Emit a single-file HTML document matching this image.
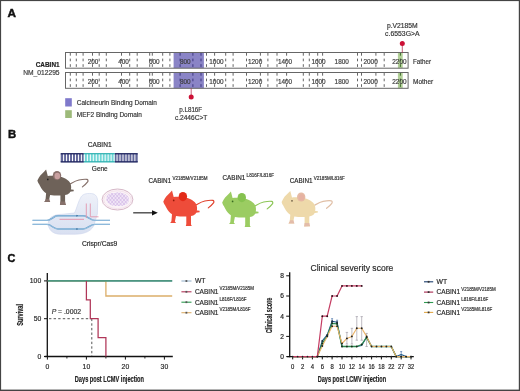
<!DOCTYPE html><html><head><meta charset="utf-8"><style>html,body{margin:0;padding:0;background:#fff;}svg{display:block;will-change:transform;}text{font-family:"Liberation Sans",sans-serif;}</style></head><body>
<svg width="520" height="391" viewBox="0 0 520 391">
<rect x="0" y="0" width="520" height="391" fill="#fff"/>
<text x="7.4" y="17.4" font-size="11.3" fill="#111" text-anchor="start" font-weight="bold" font-style="normal" textLength="8.5" lengthAdjust="spacingAndGlyphs" stroke="#111" stroke-width="0.45">A</text>
<text x="8.1" y="137.9" font-size="11.8" fill="#111" text-anchor="start" font-weight="bold" font-style="normal" textLength="8.2" lengthAdjust="spacingAndGlyphs" stroke="#111" stroke-width="0.45">B</text>
<text x="7.5" y="262.2" font-size="11.8" fill="#111" text-anchor="start" font-weight="bold" font-style="normal" textLength="7.9" lengthAdjust="spacingAndGlyphs" stroke="#111" stroke-width="0.45">C</text>
<text x="59.6" y="66.8" font-size="6.6" fill="#222" text-anchor="end" font-weight="bold" font-style="normal" textLength="23.9" lengthAdjust="spacingAndGlyphs" stroke="#222" stroke-width="0.18" >CABIN1</text>
<text x="59.6" y="74.8" font-size="6.6" fill="#3c3c3c" text-anchor="end" font-weight="normal" font-style="normal" textLength="36.4" lengthAdjust="spacingAndGlyphs" stroke="#3c3c3c" stroke-width="0.18" >NM_012295</text>
<rect x="65.5" y="52.5" width="342.6" height="15.7" fill="#fff"/>
<rect x="173.6" y="52.5" width="30.3" height="15.7" fill="#8a84c6"/>
<rect x="397.9" y="52.5" width="4.8" height="15.7" fill="#b2d098"/>
<line x1="70.3" y1="52.5" x2="70.3" y2="68.2" stroke="#666" stroke-width="1" stroke-dasharray="2.7 2.9" stroke-dashoffset="-0.5"/>
<line x1="76.3" y1="52.5" x2="76.3" y2="68.2" stroke="#666" stroke-width="1" stroke-dasharray="2.7 2.9" stroke-dashoffset="-0.5"/>
<line x1="83.1" y1="52.5" x2="83.1" y2="68.2" stroke="#666" stroke-width="1" stroke-dasharray="2.7 2.9" stroke-dashoffset="-0.5"/>
<line x1="92.5" y1="52.5" x2="92.5" y2="68.2" stroke="#666" stroke-width="1" stroke-dasharray="2.7 2.9" stroke-dashoffset="-0.5"/>
<line x1="99.2" y1="52.5" x2="99.2" y2="68.2" stroke="#666" stroke-width="1" stroke-dasharray="2.7 2.9" stroke-dashoffset="-0.5"/>
<line x1="106.3" y1="52.5" x2="106.3" y2="68.2" stroke="#666" stroke-width="1" stroke-dasharray="2.7 2.9" stroke-dashoffset="-0.5"/>
<line x1="121.5" y1="52.5" x2="121.5" y2="68.2" stroke="#666" stroke-width="1" stroke-dasharray="2.7 2.9" stroke-dashoffset="-0.5"/>
<line x1="129.7" y1="52.5" x2="129.7" y2="68.2" stroke="#666" stroke-width="1" stroke-dasharray="2.7 2.9" stroke-dashoffset="-0.5"/>
<line x1="137.2" y1="52.5" x2="137.2" y2="68.2" stroke="#666" stroke-width="1" stroke-dasharray="2.7 2.9" stroke-dashoffset="-0.5"/>
<line x1="149.7" y1="52.5" x2="149.7" y2="68.2" stroke="#666" stroke-width="1" stroke-dasharray="2.7 2.9" stroke-dashoffset="-0.5"/>
<line x1="152.3" y1="52.5" x2="152.3" y2="68.2" stroke="#666" stroke-width="1" stroke-dasharray="2.7 2.9" stroke-dashoffset="-0.5"/>
<line x1="162.7" y1="52.5" x2="162.7" y2="68.2" stroke="#666" stroke-width="1" stroke-dasharray="2.7 2.9" stroke-dashoffset="-0.5"/>
<line x1="169.9" y1="52.5" x2="169.9" y2="68.2" stroke="#666" stroke-width="1" stroke-dasharray="2.7 2.9" stroke-dashoffset="-0.5"/>
<line x1="180.1" y1="52.5" x2="180.1" y2="68.2" stroke="#3c3680" stroke-width="1" stroke-dasharray="2.7 2.9" stroke-dashoffset="-0.5"/>
<line x1="192.9" y1="52.5" x2="192.9" y2="68.2" stroke="#3c3680" stroke-width="1" stroke-dasharray="2.7 2.9" stroke-dashoffset="-0.5"/>
<line x1="201" y1="52.5" x2="201" y2="68.2" stroke="#3c3680" stroke-width="1" stroke-dasharray="2.7 2.9" stroke-dashoffset="-0.5"/>
<line x1="206.5" y1="52.5" x2="206.5" y2="68.2" stroke="#666" stroke-width="1" stroke-dasharray="2.7 2.9" stroke-dashoffset="-0.5"/>
<line x1="214.6" y1="52.5" x2="214.6" y2="68.2" stroke="#666" stroke-width="1" stroke-dasharray="2.7 2.9" stroke-dashoffset="-0.5"/>
<line x1="225.7" y1="52.5" x2="225.7" y2="68.2" stroke="#666" stroke-width="1" stroke-dasharray="2.7 2.9" stroke-dashoffset="-0.5"/>
<line x1="233.1" y1="52.5" x2="233.1" y2="68.2" stroke="#666" stroke-width="1" stroke-dasharray="2.7 2.9" stroke-dashoffset="-0.5"/>
<line x1="246.5" y1="52.5" x2="246.5" y2="68.2" stroke="#666" stroke-width="1" stroke-dasharray="2.7 2.9" stroke-dashoffset="-0.5"/>
<line x1="260.4" y1="52.5" x2="260.4" y2="68.2" stroke="#666" stroke-width="1" stroke-dasharray="2.7 2.9" stroke-dashoffset="-0.5"/>
<line x1="267.9" y1="52.5" x2="267.9" y2="68.2" stroke="#666" stroke-width="1" stroke-dasharray="2.7 2.9" stroke-dashoffset="-0.5"/>
<line x1="277" y1="52.5" x2="277" y2="68.2" stroke="#666" stroke-width="1" stroke-dasharray="2.7 2.9" stroke-dashoffset="-0.5"/>
<line x1="286.6" y1="52.5" x2="286.6" y2="68.2" stroke="#666" stroke-width="1" stroke-dasharray="2.7 2.9" stroke-dashoffset="-0.5"/>
<line x1="303.3" y1="52.5" x2="303.3" y2="68.2" stroke="#666" stroke-width="1" stroke-dasharray="2.7 2.9" stroke-dashoffset="-0.5"/>
<line x1="309.3" y1="52.5" x2="309.3" y2="68.2" stroke="#666" stroke-width="1" stroke-dasharray="2.7 2.9" stroke-dashoffset="-0.5"/>
<line x1="317.7" y1="52.5" x2="317.7" y2="68.2" stroke="#666" stroke-width="1" stroke-dasharray="2.7 2.9" stroke-dashoffset="-0.5"/>
<line x1="322.6" y1="52.5" x2="322.6" y2="68.2" stroke="#666" stroke-width="1" stroke-dasharray="2.7 2.9" stroke-dashoffset="-0.5"/>
<line x1="357.5" y1="52.5" x2="357.5" y2="68.2" stroke="#666" stroke-width="1" stroke-dasharray="2.7 2.9" stroke-dashoffset="-0.5"/>
<line x1="361.5" y1="52.5" x2="361.5" y2="68.2" stroke="#666" stroke-width="1" stroke-dasharray="2.7 2.9" stroke-dashoffset="-0.5"/>
<line x1="375.9" y1="52.5" x2="375.9" y2="68.2" stroke="#666" stroke-width="1" stroke-dasharray="2.7 2.9" stroke-dashoffset="-0.5"/>
<line x1="384.2" y1="52.5" x2="384.2" y2="68.2" stroke="#666" stroke-width="1" stroke-dasharray="2.7 2.9" stroke-dashoffset="-0.5"/>
<line x1="400.4" y1="52.5" x2="400.4" y2="68.2" stroke="#3d6a2c" stroke-width="1" stroke-dasharray="2.7 2.9" stroke-dashoffset="-0.5"/>
<text x="93" y="64.4" font-size="6.4" fill="#3e3e3e" text-anchor="middle" font-weight="normal" font-style="normal" stroke="#3e3e3e" stroke-width="0.18" >200</text>
<text x="123.5" y="64.4" font-size="6.4" fill="#3e3e3e" text-anchor="middle" font-weight="normal" font-style="normal" stroke="#3e3e3e" stroke-width="0.18" >400</text>
<text x="154.3" y="64.4" font-size="6.4" fill="#3e3e3e" text-anchor="middle" font-weight="normal" font-style="normal" stroke="#3e3e3e" stroke-width="0.18" >600</text>
<text x="185.3" y="64.4" font-size="6.4" fill="#3e3e3e" text-anchor="middle" font-weight="normal" font-style="normal" stroke="#3e3e3e" stroke-width="0.18" >800</text>
<text x="216.4" y="64.4" font-size="6.4" fill="#3e3e3e" text-anchor="middle" font-weight="normal" font-style="normal" stroke="#3e3e3e" stroke-width="0.18" >1000</text>
<text x="255.1" y="64.4" font-size="6.4" fill="#3e3e3e" text-anchor="middle" font-weight="normal" font-style="normal" stroke="#3e3e3e" stroke-width="0.18" >1200</text>
<text x="285" y="64.4" font-size="6.4" fill="#3e3e3e" text-anchor="middle" font-weight="normal" font-style="normal" stroke="#3e3e3e" stroke-width="0.18" >1400</text>
<text x="318.5" y="64.4" font-size="6.4" fill="#3e3e3e" text-anchor="middle" font-weight="normal" font-style="normal" stroke="#3e3e3e" stroke-width="0.18" >1600</text>
<text x="341.7" y="64.4" font-size="6.4" fill="#3e3e3e" text-anchor="middle" font-weight="normal" font-style="normal" stroke="#3e3e3e" stroke-width="0.18" >1800</text>
<text x="370.6" y="64.4" font-size="6.4" fill="#3e3e3e" text-anchor="middle" font-weight="normal" font-style="normal" stroke="#3e3e3e" stroke-width="0.18" >2000</text>
<text x="399.4" y="64.4" font-size="6.4" fill="#3e3e3e" text-anchor="middle" font-weight="normal" font-style="normal" stroke="#3e3e3e" stroke-width="0.18" >2200</text>
<rect x="65.5" y="52.5" width="342.6" height="15.7" fill="none" stroke="#666" stroke-width="1"/>
<rect x="65.5" y="72.5" width="342.6" height="15.8" fill="#fff"/>
<rect x="173.6" y="72.5" width="30.3" height="15.8" fill="#8a84c6"/>
<rect x="397.9" y="72.5" width="4.8" height="15.8" fill="#b2d098"/>
<line x1="70.3" y1="72.5" x2="70.3" y2="88.3" stroke="#666" stroke-width="1" stroke-dasharray="2.7 2.9" stroke-dashoffset="-0.5"/>
<line x1="76.3" y1="72.5" x2="76.3" y2="88.3" stroke="#666" stroke-width="1" stroke-dasharray="2.7 2.9" stroke-dashoffset="-0.5"/>
<line x1="83.1" y1="72.5" x2="83.1" y2="88.3" stroke="#666" stroke-width="1" stroke-dasharray="2.7 2.9" stroke-dashoffset="-0.5"/>
<line x1="92.5" y1="72.5" x2="92.5" y2="88.3" stroke="#666" stroke-width="1" stroke-dasharray="2.7 2.9" stroke-dashoffset="-0.5"/>
<line x1="99.2" y1="72.5" x2="99.2" y2="88.3" stroke="#666" stroke-width="1" stroke-dasharray="2.7 2.9" stroke-dashoffset="-0.5"/>
<line x1="106.3" y1="72.5" x2="106.3" y2="88.3" stroke="#666" stroke-width="1" stroke-dasharray="2.7 2.9" stroke-dashoffset="-0.5"/>
<line x1="121.5" y1="72.5" x2="121.5" y2="88.3" stroke="#666" stroke-width="1" stroke-dasharray="2.7 2.9" stroke-dashoffset="-0.5"/>
<line x1="129.7" y1="72.5" x2="129.7" y2="88.3" stroke="#666" stroke-width="1" stroke-dasharray="2.7 2.9" stroke-dashoffset="-0.5"/>
<line x1="137.2" y1="72.5" x2="137.2" y2="88.3" stroke="#666" stroke-width="1" stroke-dasharray="2.7 2.9" stroke-dashoffset="-0.5"/>
<line x1="149.7" y1="72.5" x2="149.7" y2="88.3" stroke="#666" stroke-width="1" stroke-dasharray="2.7 2.9" stroke-dashoffset="-0.5"/>
<line x1="152.3" y1="72.5" x2="152.3" y2="88.3" stroke="#666" stroke-width="1" stroke-dasharray="2.7 2.9" stroke-dashoffset="-0.5"/>
<line x1="162.7" y1="72.5" x2="162.7" y2="88.3" stroke="#666" stroke-width="1" stroke-dasharray="2.7 2.9" stroke-dashoffset="-0.5"/>
<line x1="169.9" y1="72.5" x2="169.9" y2="88.3" stroke="#666" stroke-width="1" stroke-dasharray="2.7 2.9" stroke-dashoffset="-0.5"/>
<line x1="180.1" y1="72.5" x2="180.1" y2="88.3" stroke="#3c3680" stroke-width="1" stroke-dasharray="2.7 2.9" stroke-dashoffset="-0.5"/>
<line x1="192.9" y1="72.5" x2="192.9" y2="88.3" stroke="#3c3680" stroke-width="1" stroke-dasharray="2.7 2.9" stroke-dashoffset="-0.5"/>
<line x1="201" y1="72.5" x2="201" y2="88.3" stroke="#3c3680" stroke-width="1" stroke-dasharray="2.7 2.9" stroke-dashoffset="-0.5"/>
<line x1="206.5" y1="72.5" x2="206.5" y2="88.3" stroke="#666" stroke-width="1" stroke-dasharray="2.7 2.9" stroke-dashoffset="-0.5"/>
<line x1="214.6" y1="72.5" x2="214.6" y2="88.3" stroke="#666" stroke-width="1" stroke-dasharray="2.7 2.9" stroke-dashoffset="-0.5"/>
<line x1="225.7" y1="72.5" x2="225.7" y2="88.3" stroke="#666" stroke-width="1" stroke-dasharray="2.7 2.9" stroke-dashoffset="-0.5"/>
<line x1="233.1" y1="72.5" x2="233.1" y2="88.3" stroke="#666" stroke-width="1" stroke-dasharray="2.7 2.9" stroke-dashoffset="-0.5"/>
<line x1="246.5" y1="72.5" x2="246.5" y2="88.3" stroke="#666" stroke-width="1" stroke-dasharray="2.7 2.9" stroke-dashoffset="-0.5"/>
<line x1="260.4" y1="72.5" x2="260.4" y2="88.3" stroke="#666" stroke-width="1" stroke-dasharray="2.7 2.9" stroke-dashoffset="-0.5"/>
<line x1="267.9" y1="72.5" x2="267.9" y2="88.3" stroke="#666" stroke-width="1" stroke-dasharray="2.7 2.9" stroke-dashoffset="-0.5"/>
<line x1="277" y1="72.5" x2="277" y2="88.3" stroke="#666" stroke-width="1" stroke-dasharray="2.7 2.9" stroke-dashoffset="-0.5"/>
<line x1="286.6" y1="72.5" x2="286.6" y2="88.3" stroke="#666" stroke-width="1" stroke-dasharray="2.7 2.9" stroke-dashoffset="-0.5"/>
<line x1="303.3" y1="72.5" x2="303.3" y2="88.3" stroke="#666" stroke-width="1" stroke-dasharray="2.7 2.9" stroke-dashoffset="-0.5"/>
<line x1="309.3" y1="72.5" x2="309.3" y2="88.3" stroke="#666" stroke-width="1" stroke-dasharray="2.7 2.9" stroke-dashoffset="-0.5"/>
<line x1="317.7" y1="72.5" x2="317.7" y2="88.3" stroke="#666" stroke-width="1" stroke-dasharray="2.7 2.9" stroke-dashoffset="-0.5"/>
<line x1="322.6" y1="72.5" x2="322.6" y2="88.3" stroke="#666" stroke-width="1" stroke-dasharray="2.7 2.9" stroke-dashoffset="-0.5"/>
<line x1="357.5" y1="72.5" x2="357.5" y2="88.3" stroke="#666" stroke-width="1" stroke-dasharray="2.7 2.9" stroke-dashoffset="-0.5"/>
<line x1="361.5" y1="72.5" x2="361.5" y2="88.3" stroke="#666" stroke-width="1" stroke-dasharray="2.7 2.9" stroke-dashoffset="-0.5"/>
<line x1="375.9" y1="72.5" x2="375.9" y2="88.3" stroke="#666" stroke-width="1" stroke-dasharray="2.7 2.9" stroke-dashoffset="-0.5"/>
<line x1="384.2" y1="72.5" x2="384.2" y2="88.3" stroke="#666" stroke-width="1" stroke-dasharray="2.7 2.9" stroke-dashoffset="-0.5"/>
<line x1="400.4" y1="72.5" x2="400.4" y2="88.3" stroke="#3d6a2c" stroke-width="1" stroke-dasharray="2.7 2.9" stroke-dashoffset="-0.5"/>
<text x="93" y="84.4" font-size="6.4" fill="#3e3e3e" text-anchor="middle" font-weight="normal" font-style="normal" stroke="#3e3e3e" stroke-width="0.18" >200</text>
<text x="123.5" y="84.4" font-size="6.4" fill="#3e3e3e" text-anchor="middle" font-weight="normal" font-style="normal" stroke="#3e3e3e" stroke-width="0.18" >400</text>
<text x="154.3" y="84.4" font-size="6.4" fill="#3e3e3e" text-anchor="middle" font-weight="normal" font-style="normal" stroke="#3e3e3e" stroke-width="0.18" >600</text>
<text x="185.3" y="84.4" font-size="6.4" fill="#3e3e3e" text-anchor="middle" font-weight="normal" font-style="normal" stroke="#3e3e3e" stroke-width="0.18" >800</text>
<text x="216.4" y="84.4" font-size="6.4" fill="#3e3e3e" text-anchor="middle" font-weight="normal" font-style="normal" stroke="#3e3e3e" stroke-width="0.18" >1000</text>
<text x="255.1" y="84.4" font-size="6.4" fill="#3e3e3e" text-anchor="middle" font-weight="normal" font-style="normal" stroke="#3e3e3e" stroke-width="0.18" >1200</text>
<text x="285" y="84.4" font-size="6.4" fill="#3e3e3e" text-anchor="middle" font-weight="normal" font-style="normal" stroke="#3e3e3e" stroke-width="0.18" >1400</text>
<text x="318.5" y="84.4" font-size="6.4" fill="#3e3e3e" text-anchor="middle" font-weight="normal" font-style="normal" stroke="#3e3e3e" stroke-width="0.18" >1600</text>
<text x="341.7" y="84.4" font-size="6.4" fill="#3e3e3e" text-anchor="middle" font-weight="normal" font-style="normal" stroke="#3e3e3e" stroke-width="0.18" >1800</text>
<text x="370.6" y="84.4" font-size="6.4" fill="#3e3e3e" text-anchor="middle" font-weight="normal" font-style="normal" stroke="#3e3e3e" stroke-width="0.18" >2000</text>
<text x="399.4" y="84.4" font-size="6.4" fill="#3e3e3e" text-anchor="middle" font-weight="normal" font-style="normal" stroke="#3e3e3e" stroke-width="0.18" >2200</text>
<rect x="65.5" y="72.5" width="342.6" height="15.8" fill="none" stroke="#666" stroke-width="1"/>
<text x="413" y="63.6" font-size="6.5" fill="#363636" text-anchor="start" font-weight="normal" font-style="normal" textLength="18" lengthAdjust="spacingAndGlyphs" stroke="#363636" stroke-width="0.18" >Father</text>
<text x="413" y="83.5" font-size="6.5" fill="#363636" text-anchor="start" font-weight="normal" font-style="normal" textLength="20.2" lengthAdjust="spacingAndGlyphs" stroke="#363636" stroke-width="0.18" >Mother</text>
<line x1="402.3" y1="44" x2="402.3" y2="52.6" stroke="#b02040" stroke-width="0.7"/>
<circle cx="402.3" cy="43.6" r="2.5" fill="#cc1036"/>
<text x="402.3" y="27.6" font-size="6.6" fill="#363636" text-anchor="middle" font-weight="normal" font-style="normal" textLength="30.8" lengthAdjust="spacingAndGlyphs" stroke="#363636" stroke-width="0.18" >p.V2185M</text>
<text x="402.3" y="35.5" font-size="6.6" fill="#363636" text-anchor="middle" font-weight="normal" font-style="normal" textLength="34.5" lengthAdjust="spacingAndGlyphs" stroke="#363636" stroke-width="0.18" >c.6553G&gt;A</text>
<line x1="191.2" y1="88.4" x2="191.2" y2="96" stroke="#b02040" stroke-width="0.7"/>
<circle cx="191.2" cy="97" r="2.5" fill="#cc1036"/>
<text x="190.7" y="111.6" font-size="6.5" fill="#363636" text-anchor="middle" font-weight="normal" font-style="normal" textLength="23" lengthAdjust="spacingAndGlyphs" stroke="#363636" stroke-width="0.18" >p.L816F</text>
<text x="191.1" y="119.5" font-size="6.5" fill="#363636" text-anchor="middle" font-weight="normal" font-style="normal" textLength="32.3" lengthAdjust="spacingAndGlyphs" stroke="#363636" stroke-width="0.18" >c.2446C&gt;T</text>
<rect x="65.2" y="98.2" width="6.6" height="8.3" fill="#7f79cb"/>
<rect x="65.2" y="110.2" width="6.6" height="7.8" fill="#9dba7a"/>
<text x="76.8" y="104.8" font-size="6.5" fill="#363636" text-anchor="start" font-weight="normal" font-style="normal" textLength="80" lengthAdjust="spacingAndGlyphs" stroke="#363636" stroke-width="0.18" >Calcineurin Binding Domain</text>
<text x="76.8" y="116.7" font-size="6.5" fill="#363636" text-anchor="start" font-weight="normal" font-style="normal" stroke="#363636" stroke-width="0.18" >MEF2 Binding Domain</text>
<text x="99.7" y="146.6" font-size="6.5" fill="#2a2a2a" text-anchor="middle" font-weight="normal" font-style="normal" textLength="23.7" lengthAdjust="spacingAndGlyphs" stroke="#2a2a2a" stroke-width="0.18" >CABIN1</text>
<text x="99.8" y="170.5" font-size="6.5" fill="#2a2a2a" text-anchor="middle" font-weight="normal" font-style="normal" textLength="15.9" lengthAdjust="spacingAndGlyphs" stroke="#2a2a2a" stroke-width="0.18" >Gene</text>
<rect x="60.7" y="153.6" width="23.1" height="8.6" fill="#62679a"/>
<rect x="83.8" y="153.6" width="31" height="8.6" fill="#70d6d6"/>
<rect x="114.8" y="153.6" width="22.9" height="8.6" fill="#62679a"/>
<line x1="63.60" y1="154" x2="63.60" y2="161.8" stroke="#fff" stroke-width="1.0"/>
<line x1="66.57" y1="154" x2="66.57" y2="161.8" stroke="#fff" stroke-width="1.0"/>
<line x1="69.54" y1="154" x2="69.54" y2="161.8" stroke="#fff" stroke-width="1.0"/>
<line x1="72.51" y1="154" x2="72.51" y2="161.8" stroke="#fff" stroke-width="1.0"/>
<line x1="75.48" y1="154" x2="75.48" y2="161.8" stroke="#fff" stroke-width="1.0"/>
<line x1="78.45" y1="154" x2="78.45" y2="161.8" stroke="#fff" stroke-width="1.0"/>
<line x1="81.42" y1="154" x2="81.42" y2="161.8" stroke="#fff" stroke-width="1.0"/>
<line x1="84.39" y1="154" x2="84.39" y2="161.8" stroke="#fff" stroke-width="1.0"/>
<line x1="87.36" y1="154" x2="87.36" y2="161.8" stroke="#fff" stroke-width="1.0"/>
<line x1="90.33" y1="154" x2="90.33" y2="161.8" stroke="#fff" stroke-width="1.0"/>
<line x1="93.30" y1="154" x2="93.30" y2="161.8" stroke="#fff" stroke-width="1.0"/>
<line x1="96.27" y1="154" x2="96.27" y2="161.8" stroke="#fff" stroke-width="1.0"/>
<line x1="99.24" y1="154" x2="99.24" y2="161.8" stroke="#fff" stroke-width="1.0"/>
<line x1="102.21" y1="154" x2="102.21" y2="161.8" stroke="#fff" stroke-width="1.0"/>
<line x1="105.18" y1="154" x2="105.18" y2="161.8" stroke="#fff" stroke-width="1.0"/>
<line x1="108.15" y1="154" x2="108.15" y2="161.8" stroke="#fff" stroke-width="1.0"/>
<line x1="111.12" y1="154" x2="111.12" y2="161.8" stroke="#fff" stroke-width="1.0"/>
<line x1="114.09" y1="154" x2="114.09" y2="161.8" stroke="#fff" stroke-width="1.0"/>
<line x1="117.06" y1="154" x2="117.06" y2="161.8" stroke="#fff" stroke-width="1.0"/>
<line x1="120.03" y1="154" x2="120.03" y2="161.8" stroke="#fff" stroke-width="1.0"/>
<line x1="123.00" y1="154" x2="123.00" y2="161.8" stroke="#fff" stroke-width="1.0"/>
<line x1="125.97" y1="154" x2="125.97" y2="161.8" stroke="#fff" stroke-width="1.0"/>
<line x1="128.94" y1="154" x2="128.94" y2="161.8" stroke="#fff" stroke-width="1.0"/>
<line x1="131.91" y1="154" x2="131.91" y2="161.8" stroke="#fff" stroke-width="1.0"/>
<line x1="134.88" y1="154" x2="134.88" y2="161.8" stroke="#fff" stroke-width="1.0"/>
<rect x="60.7" y="153.1" width="23.1" height="1.3" fill="#1f255f"/>
<rect x="60.7" y="161.2" width="23.1" height="1.3" fill="#1f255f"/>
<rect x="114.8" y="153.1" width="22.9" height="1.3" fill="#1f255f"/>
<rect x="114.8" y="161.2" width="22.9" height="1.3" fill="#1f255f"/>
<rect x="83.8" y="153.1" width="31" height="1.2" fill="#2fb0b0"/>
<rect x="83.8" y="161.2" width="31" height="1.2" fill="#2fb0b0"/>
<g transform="translate(37.4,180.6)">
<path d="M33,3.2 C36,1.5 38.5,0 41.5,-0.6 C44.5,-1.2 47.5,-1.6 49.6,-1.2 C50.8,-0.8 50.8,0.6 50.2,1.3 C49.3,2.6 47.5,4.3 45,6.3" fill="none" stroke="#85706a" stroke-width="1.2" stroke-linecap="round"/>
<path d="M32,8.7 L36.3,9.2 L36.3,10.6 L32,11.2 Z" fill="#6e6259"/>
<path d="M0,0 C1,-2 1.8,-3.8 2.9,-5.2 L6.9,-9.2 L8.7,-11 L10.4,-4.6 C15,-5 20,-4.5 24.2,-3.5 C27,-2.6 29,-1.5 30,-0.6 C32.5,1.2 33.4,3 33.6,5 C34,7.5 33.6,9 33.2,10.4 C32.5,12.2 31.5,13.2 30,13.8 L27.7,14.4 L27.7,23 L28.5,24.3 L22.5,24.4 L23,22.5 L23,14.9 C19.5,15 16,14.9 12.7,14.4 L11.6,20 L12.8,21.4 L6.9,21.4 L8.1,19.6 L8.7,12.7 C6.3,11 4.5,9 3.5,6.9 C2.5,5 1.7,3.5 1.2,2.9 C0.6,2 0.2,1 0,0 Z" fill="#6e6259"/>
<ellipse cx="19.6" cy="-5" rx="4.2" ry="4.6" fill="#8a706c"/>
<ellipse cx="19.9" cy="-4.6" rx="2.8" ry="3.2" fill="#c9a0a0"/>
<circle cx="10.4" cy="-1.2" r="0.85" fill="#222"/>
<path d="M8.3,18.3 L11.8,18.3 L12.8,21.4 L6.9,21.4 L8.1,19.6 Z M23,21 L27.7,21 L28.5,24.3 L22.5,24.4 Z" fill="#86706a"/>
</g>
<g transform="translate(163.3,201.6)">
<path d="M33,3.2 C36,1.5 38.5,0 41.5,-0.6 C44.5,-1.2 47.5,-1.6 49.6,-1.2 C50.8,-0.8 50.8,0.6 50.2,1.3 C49.3,2.6 47.5,4.3 45,6.3" fill="none" stroke="#e0402c" stroke-width="1.2" stroke-linecap="round"/>
<path d="M32,8.7 L36.3,9.2 L36.3,10.6 L32,11.2 Z" fill="#ee4c3a"/>
<path d="M0,0 C1,-2 1.8,-3.8 2.9,-5.2 L6.9,-9.2 L8.7,-11 L10.4,-4.6 C15,-5 20,-4.5 24.2,-3.5 C27,-2.6 29,-1.5 30,-0.6 C32.5,1.2 33.4,3 33.6,5 C34,7.5 33.6,9 33.2,10.4 C32.5,12.2 31.5,13.2 30,13.8 L27.7,14.4 L27.7,23 L28.5,24.3 L22.5,24.4 L23,22.5 L23,14.9 C19.5,15 16,14.9 12.7,14.4 L11.6,20 L12.8,21.4 L6.9,21.4 L8.1,19.6 L8.7,12.7 C6.3,11 4.5,9 3.5,6.9 C2.5,5 1.7,3.5 1.2,2.9 C0.6,2 0.2,1 0,0 Z" fill="#ee4c3a"/>
<ellipse cx="19.6" cy="-5" rx="4.2" ry="4.6" fill="#e32a18"/>
<circle cx="10.4" cy="-1.2" r="0.85" fill="#901808"/>
</g>
<g transform="translate(222.2,202.6)">
<path d="M33,3.2 C36,1.5 38.5,0 41.5,-0.6 C44.5,-1.2 47.5,-1.6 49.6,-1.2 C50.8,-0.8 50.8,0.6 50.2,1.3 C49.3,2.6 47.5,4.3 45,6.3" fill="none" stroke="#8cc656" stroke-width="1.2" stroke-linecap="round"/>
<path d="M32,8.7 L36.3,9.2 L36.3,10.6 L32,11.2 Z" fill="#9bcc62"/>
<path d="M0,0 C1,-2 1.8,-3.8 2.9,-5.2 L6.9,-9.2 L8.7,-11 L10.4,-4.6 C15,-5 20,-4.5 24.2,-3.5 C27,-2.6 29,-1.5 30,-0.6 C32.5,1.2 33.4,3 33.6,5 C34,7.5 33.6,9 33.2,10.4 C32.5,12.2 31.5,13.2 30,13.8 L27.7,14.4 L27.7,23 L28.5,24.3 L22.5,24.4 L23,22.5 L23,14.9 C19.5,15 16,14.9 12.7,14.4 L11.6,20 L12.8,21.4 L6.9,21.4 L8.1,19.6 L8.7,12.7 C6.3,11 4.5,9 3.5,6.9 C2.5,5 1.7,3.5 1.2,2.9 C0.6,2 0.2,1 0,0 Z" fill="#9bcc62"/>
<ellipse cx="19.6" cy="-5" rx="4.2" ry="4.6" fill="#86c250"/>
<circle cx="10.4" cy="-1.2" r="0.85" fill="#3a6a20"/>
</g>
<g transform="translate(281.6,202.0)">
<path d="M33,3.2 C36,1.5 38.5,0 41.5,-0.6 C44.5,-1.2 47.5,-1.6 49.6,-1.2 C50.8,-0.8 50.8,0.6 50.2,1.3 C49.3,2.6 47.5,4.3 45,6.3" fill="none" stroke="#e0bfa6" stroke-width="1.2" stroke-linecap="round"/>
<path d="M32,8.7 L36.3,9.2 L36.3,10.6 L32,11.2 Z" fill="#eed9aa"/>
<path d="M0,0 C1,-2 1.8,-3.8 2.9,-5.2 L6.9,-9.2 L8.7,-11 L10.4,-4.6 C15,-5 20,-4.5 24.2,-3.5 C27,-2.6 29,-1.5 30,-0.6 C32.5,1.2 33.4,3 33.6,5 C34,7.5 33.6,9 33.2,10.4 C32.5,12.2 31.5,13.2 30,13.8 L27.7,14.4 L27.7,23 L28.5,24.3 L22.5,24.4 L23,22.5 L23,14.9 C19.5,15 16,14.9 12.7,14.4 L11.6,20 L12.8,21.4 L6.9,21.4 L8.1,19.6 L8.7,12.7 C6.3,11 4.5,9 3.5,6.9 C2.5,5 1.7,3.5 1.2,2.9 C0.6,2 0.2,1 0,0 Z" fill="#eed9aa"/>
<ellipse cx="19.6" cy="-5" rx="4.2" ry="4.6" fill="#e6bba4"/>
<ellipse cx="19.9" cy="-4.6" rx="2.8" ry="3.2" fill="#e6b2a2"/>
<circle cx="10.4" cy="-1.2" r="0.85" fill="#6a5a40"/>
<path d="M8.3,18.3 L11.8,18.3 L12.8,21.4 L6.9,21.4 L8.1,19.6 Z M23,21 L27.7,21 L28.5,24.3 L22.5,24.4 Z" fill="#e3bcaa"/>
</g>
<ellipse cx="117.5" cy="199.5" rx="15.4" ry="10.5" fill="#fbf3f7" stroke="#d6b8c8" stroke-width="1"/>
<ellipse cx="117.5" cy="199.7" rx="13.8" ry="8.9" fill="none" stroke="#efdbe6" stroke-width="0.7"/>
<defs><clipPath id="pc"><path d="M106.5,198 C107,194 111,192.5 115,193 C119,192 124,193 127,195.5 C130,198 129.5,202.5 126,204.5 C122,206.5 115,206.5 111,205 C107.5,203.5 106,201 106.5,198 Z"/></clipPath></defs>
<path d="M106.5,198 C107,194 111,192.5 115,193 C119,192 124,193 127,195.5 C130,198 129.5,202.5 126,204.5 C122,206.5 115,206.5 111,205 C107.5,203.5 106,201 106.5,198 Z" fill="#f0e6f6"/>
<g clip-path="url(#pc)"><path d="M79.6,208 l14,-16 M79.6,192 l14,16 M83.0,208 l14,-16 M83.0,192 l14,16 M86.4,208 l14,-16 M86.4,192 l14,16 M89.8,208 l14,-16 M89.8,192 l14,16 M93.2,208 l14,-16 M93.2,192 l14,16 M96.6,208 l14,-16 M96.6,192 l14,16 M100.0,208 l14,-16 M100.0,192 l14,16 M103.4,208 l14,-16 M103.4,192 l14,16 M106.8,208 l14,-16 M106.8,192 l14,16 M110.2,208 l14,-16 M110.2,192 l14,16 M113.6,208 l14,-16 M113.6,192 l14,16 M117.0,208 l14,-16 M117.0,192 l14,16 M120.4,208 l14,-16 M120.4,192 l14,16 M123.8,208 l14,-16 M123.8,192 l14,16 M127.2,208 l14,-16 M127.2,192 l14,16 M130.6,208 l14,-16 M130.6,192 l14,16 M134.0,208 l14,-16 M134.0,192 l14,16 M137.4,208 l14,-16 M137.4,192 l14,16" stroke="#cfb2e4" stroke-width="0.65" fill="none"/></g>
<defs><linearGradient id="cg" x1="0" y1="0" x2="0" y2="1"><stop offset="0" stop-color="#eef1f9"/><stop offset="0.45" stop-color="#e4e9f5"/><stop offset="1" stop-color="#d9e0f1"/></linearGradient></defs>
<path d="M48.2,224 C48,218 53,214.3 62,214.3 L74.5,213 C77,208 78,202 81,197 C83,193.5 88,193 93,193.8 C97,195 98,199 97.6,204 L97.4,214 C96,218 95,222 94.2,224 C93,230 86,234.2 75,234.2 L60,234.2 C52,234 48.4,229 48.2,224 Z" fill="url(#cg)" stroke="#ccd5ec" stroke-width="0.6"/>
<path d="M32.5,220.4 L47,220.4 C52,220.4 53,215.8 58,215.8 L83,215.8 C88,215.8 90,220.4 95,220.4 L110,220.4" fill="none" stroke="#5a96c6" stroke-width="1.4"/>
<path d="M32.5,220.4 L47,220.4 C52,220.4 53,215.8 58,215.8 L83,215.8 C88,215.8 90,220.4 95,220.4 L110,220.4" fill="none" stroke="#cfe6f5" stroke-width="0.5"/>
<path d="M32.5,224.4 L47,224.4 C52,224.4 53,229 58,229 L83,229 C88,229 90,224.4 95,224.4 L110,224.4" fill="none" stroke="#5a96c6" stroke-width="1.4"/>
<path d="M32.5,224.4 L47,224.4 C52,224.4 53,229 58,229 L83,229 C88,229 90,224.4 95,224.4 L110,224.4" fill="none" stroke="#cfe6f5" stroke-width="0.5"/>
<path d="M59.5,219.3 L84,219.3" stroke="#e295ad" stroke-width="1" fill="none"/>
<path d="M86.3,203.5 L86.3,218 M90.3,203.5 L90.3,216.8 L98.5,216.8" stroke="#e295ad" stroke-width="0.9" fill="none"/>
<path d="M78,215.8 l-1.5,-1 l0,2 z M78,229 l-1.5,-1 l0,2 z" fill="#2a5a8a"/>
<text x="99.6" y="245.8" font-size="6.6" fill="#2a2a2a" text-anchor="middle" font-weight="normal" font-style="normal" textLength="35.4" lengthAdjust="spacingAndGlyphs" stroke="#2a2a2a" stroke-width="0.18" >Crispr/Cas9</text>
<line x1="133.2" y1="212.8" x2="153" y2="212.8" stroke="#4a4a4a" stroke-width="1.4"/>
<path d="M152,210.2 L157.8,212.8 L152,215.4 Z" fill="#111"/>
<text x="148.4" y="182.8" font-size="6.4" fill="#2a2a2a" text-anchor="start" font-weight="normal" font-style="normal" textLength="22.8" lengthAdjust="spacingAndGlyphs" stroke="#2a2a2a" stroke-width="0.18" >CABIN1</text>
<text x="172.50000000000003" y="179.9" font-size="4.5" fill="#363636" text-anchor="start" font-weight="normal" font-style="normal" textLength="35" lengthAdjust="spacingAndGlyphs" stroke="#363636" stroke-width="0.18" >V2185M/V2185M</text>
<text x="222.5" y="180.0" font-size="6.4" fill="#2a2a2a" text-anchor="start" font-weight="normal" font-style="normal" textLength="22.8" lengthAdjust="spacingAndGlyphs" stroke="#2a2a2a" stroke-width="0.18" >CABIN1</text>
<text x="246.60000000000002" y="177.1" font-size="4.5" fill="#363636" text-anchor="start" font-weight="normal" font-style="normal" textLength="27.5" lengthAdjust="spacingAndGlyphs" stroke="#363636" stroke-width="0.18" >L816F/L816F</text>
<text x="289.7" y="182.7" font-size="6.4" fill="#2a2a2a" text-anchor="start" font-weight="normal" font-style="normal" textLength="22.8" lengthAdjust="spacingAndGlyphs" stroke="#2a2a2a" stroke-width="0.18" >CABIN1</text>
<text x="313.8" y="179.79999999999998" font-size="4.5" fill="#363636" text-anchor="start" font-weight="normal" font-style="normal" textLength="31" lengthAdjust="spacingAndGlyphs" stroke="#363636" stroke-width="0.18" >V2185M/L816F</text>
<text x="19.8" y="314.9" font-size="8.4" fill="#222" text-anchor="middle" font-weight="bold" font-style="normal" textLength="21.7" lengthAdjust="spacingAndGlyphs" stroke="#222" stroke-width="0.18" transform="rotate(-90 19.8 314.9)" dy="3">Survival</text>
<line x1="47.3" y1="273" x2="47.3" y2="357" stroke="#111" stroke-width="1.3"/>
<line x1="44.6" y1="356.5" x2="172.8" y2="356.5" stroke="#111" stroke-width="1.3"/>
<line x1="44" y1="280.9" x2="47" y2="280.9" stroke="#111" stroke-width="1"/>
<text x="41.2" y="283.29999999999995" font-size="6.8" fill="#2a2a2a" text-anchor="end" font-weight="normal" font-style="normal" stroke="#2a2a2a" stroke-width="0.18" >100</text>
<line x1="44" y1="318.7" x2="47" y2="318.7" stroke="#111" stroke-width="1"/>
<text x="41.2" y="321.09999999999997" font-size="6.8" fill="#2a2a2a" text-anchor="end" font-weight="normal" font-style="normal" stroke="#2a2a2a" stroke-width="0.18" >50</text>
<line x1="44" y1="356.5" x2="47" y2="356.5" stroke="#111" stroke-width="1"/>
<text x="41.2" y="358.9" font-size="6.8" fill="#2a2a2a" text-anchor="end" font-weight="normal" font-style="normal" stroke="#2a2a2a" stroke-width="0.18" >0</text>
<line x1="47.4" y1="356.5" x2="47.4" y2="359.6" stroke="#111" stroke-width="1"/>
<text x="47.4" y="369" font-size="6.8" fill="#2a2a2a" text-anchor="middle" font-weight="normal" font-style="normal" stroke="#2a2a2a" stroke-width="0.18" >0</text>
<line x1="86.4" y1="356.5" x2="86.4" y2="359.6" stroke="#111" stroke-width="1"/>
<text x="86.4" y="369" font-size="6.8" fill="#2a2a2a" text-anchor="middle" font-weight="normal" font-style="normal" stroke="#2a2a2a" stroke-width="0.18" >10</text>
<line x1="125.4" y1="356.5" x2="125.4" y2="359.6" stroke="#111" stroke-width="1"/>
<text x="125.4" y="369" font-size="6.8" fill="#2a2a2a" text-anchor="middle" font-weight="normal" font-style="normal" stroke="#2a2a2a" stroke-width="0.18" >20</text>
<line x1="164.4" y1="356.5" x2="164.4" y2="359.6" stroke="#111" stroke-width="1"/>
<text x="164.4" y="369" font-size="6.8" fill="#2a2a2a" text-anchor="middle" font-weight="normal" font-style="normal" stroke="#2a2a2a" stroke-width="0.18" >30</text>
<line x1="66.9" y1="356.5" x2="66.9" y2="358.5" stroke="#111" stroke-width="0.9"/>
<line x1="105.9" y1="356.5" x2="105.9" y2="358.5" stroke="#111" stroke-width="0.9"/>
<line x1="144.9" y1="356.5" x2="144.9" y2="358.5" stroke="#111" stroke-width="0.9"/>
<text x="109.4" y="381.6" font-size="8.4" fill="#222" text-anchor="middle" font-weight="bold" font-style="normal" textLength="69.2" lengthAdjust="spacingAndGlyphs" stroke="#222" stroke-width="0.18" >Days post LCMV injection</text>
<path d="M49,318.7 L91.8,318.7 M91.8,318.7 L91.8,356" stroke="#555" stroke-width="1" stroke-dasharray="2.4 2.2" fill="none"/>
<text x="51.7" y="314.3" font-size="6.6" fill="#363636" text-anchor="start" font-weight="normal" font-style="normal" textLength="29.3" lengthAdjust="spacingAndGlyphs" stroke="#363636" stroke-width="0.18" ><tspan font-style="italic">P</tspan> = .0002</text>
<path d="M47.8,280.9 L172.2,280.9" stroke="#9ab4cc" stroke-width="1.4"/>
<path d="M47.8,280.9 L105.9,280.9 L105.9,296.0 L172.2,296.0" stroke="#dcae6a" stroke-width="1.3" fill="none"/>
<path d="M47.8,280.9 L172.2,280.9" stroke="#4d9680" stroke-width="1.6"/>
<path d="M86.4,280.9 L86.4,299.8 L90.3,299.8 L90.3,318.7 L98.1,318.7 L98.1,337.6 L105.9,337.6 L105.9,356.5" stroke="#b03658" stroke-width="1.25" fill="none"/>
<line x1="181.4" y1="281.0" x2="191.5" y2="281.0" stroke="#9ab4cc" stroke-width="1.1"/>
<rect x="185.5" y="280.1" width="1.8" height="1.8" fill="#555"/>
<text x="194.9" y="283.2" font-size="6.8" fill="#2a2a2a" text-anchor="start" font-weight="normal" font-style="normal" stroke="#2a2a2a" stroke-width="0.18" >WT</text>
<line x1="181.4" y1="291.8" x2="191.5" y2="291.8" stroke="#b03658" stroke-width="1.1"/>
<rect x="185.5" y="290.9" width="1.8" height="1.8" fill="#555"/>
<text x="194.9" y="294.1" font-size="6.8" fill="#2a2a2a" text-anchor="start" font-weight="normal" font-style="normal" textLength="23.6" lengthAdjust="spacingAndGlyphs" stroke="#2a2a2a" stroke-width="0.18" >CABIN1</text>
<text x="219.5" y="290.2" font-size="4.6" fill="#363636" text-anchor="start" font-weight="normal" font-style="normal" textLength="34.5" lengthAdjust="spacingAndGlyphs" stroke="#363636" stroke-width="0.18" >V2185M/V2185M</text>
<line x1="181.4" y1="302.2" x2="191.5" y2="302.2" stroke="#2e9a50" stroke-width="1.1"/>
<rect x="185.5" y="301.3" width="1.8" height="1.8" fill="#555"/>
<text x="194.9" y="304.5" font-size="6.8" fill="#2a2a2a" text-anchor="start" font-weight="normal" font-style="normal" textLength="23.6" lengthAdjust="spacingAndGlyphs" stroke="#2a2a2a" stroke-width="0.18" >CABIN1</text>
<text x="219.5" y="300.59999999999997" font-size="4.6" fill="#363636" text-anchor="start" font-weight="normal" font-style="normal" textLength="27" lengthAdjust="spacingAndGlyphs" stroke="#363636" stroke-width="0.18" >L816F/L816F</text>
<line x1="181.4" y1="312.7" x2="191.5" y2="312.7" stroke="#dcae6a" stroke-width="1.1"/>
<rect x="185.5" y="311.8" width="1.8" height="1.8" fill="#555"/>
<text x="194.9" y="315.0" font-size="6.8" fill="#2a2a2a" text-anchor="start" font-weight="normal" font-style="normal" textLength="23.6" lengthAdjust="spacingAndGlyphs" stroke="#2a2a2a" stroke-width="0.18" >CABIN1</text>
<text x="219.5" y="311.09999999999997" font-size="4.6" fill="#363636" text-anchor="start" font-weight="normal" font-style="normal" textLength="31" lengthAdjust="spacingAndGlyphs" stroke="#363636" stroke-width="0.18" >V2185M/L816F</text>
<text x="351.9" y="271" font-size="8.5" fill="#2a2a2a" text-anchor="middle" font-weight="normal" font-style="normal" textLength="82.8" lengthAdjust="spacingAndGlyphs" stroke="#2a2a2a" stroke-width="0.18" >Clinical severity score</text>
<text x="269.3" y="315.5" font-size="8.4" fill="#222" text-anchor="middle" font-weight="bold" font-style="normal" textLength="35.7" lengthAdjust="spacingAndGlyphs" stroke="#222" stroke-width="0.18" transform="rotate(-90 269.3 315.5)" dy="3">Clinical score</text>
<line x1="289.7" y1="272.3" x2="289.7" y2="357.2" stroke="#111" stroke-width="1.3"/>
<line x1="287" y1="356.6" x2="413.8" y2="356.6" stroke="#111" stroke-width="1.3"/>
<line x1="286.2" y1="356.6" x2="289.5" y2="356.6" stroke="#111" stroke-width="1"/>
<text x="283.8" y="358.90000000000003" font-size="6.6" fill="#222" text-anchor="end" font-weight="normal" font-style="normal" stroke="#222" stroke-width="0.18" >0</text>
<line x1="286.2" y1="336.4" x2="289.5" y2="336.4" stroke="#111" stroke-width="1"/>
<text x="283.8" y="338.70000000000005" font-size="6.6" fill="#222" text-anchor="end" font-weight="normal" font-style="normal" stroke="#222" stroke-width="0.18" >2</text>
<line x1="286.2" y1="316.2" x2="289.5" y2="316.2" stroke="#111" stroke-width="1"/>
<text x="283.8" y="318.50000000000006" font-size="6.6" fill="#222" text-anchor="end" font-weight="normal" font-style="normal" stroke="#222" stroke-width="0.18" >4</text>
<line x1="286.2" y1="296.0" x2="289.5" y2="296.0" stroke="#111" stroke-width="1"/>
<text x="283.8" y="298.3" font-size="6.6" fill="#222" text-anchor="end" font-weight="normal" font-style="normal" stroke="#222" stroke-width="0.18" >6</text>
<line x1="286.2" y1="275.8" x2="289.5" y2="275.8" stroke="#111" stroke-width="1"/>
<text x="283.8" y="278.1" font-size="6.6" fill="#222" text-anchor="end" font-weight="normal" font-style="normal" stroke="#222" stroke-width="0.18" >8</text>
<line x1="292.7" y1="356.6" x2="292.7" y2="359.4" stroke="#111" stroke-width="1"/>
<text x="292.7" y="369.2" font-size="6.6" fill="#222" text-anchor="middle" font-weight="normal" font-style="normal" textLength="3.3" lengthAdjust="spacingAndGlyphs" stroke="#222" stroke-width="0.18" >0</text>
<line x1="302.6" y1="356.6" x2="302.6" y2="359.4" stroke="#111" stroke-width="1"/>
<text x="302.56" y="369.2" font-size="6.6" fill="#222" text-anchor="middle" font-weight="normal" font-style="normal" textLength="3.3" lengthAdjust="spacingAndGlyphs" stroke="#222" stroke-width="0.18" >2</text>
<line x1="312.4" y1="356.6" x2="312.4" y2="359.4" stroke="#111" stroke-width="1"/>
<text x="312.41999999999996" y="369.2" font-size="6.6" fill="#222" text-anchor="middle" font-weight="normal" font-style="normal" textLength="3.3" lengthAdjust="spacingAndGlyphs" stroke="#222" stroke-width="0.18" >4</text>
<line x1="322.3" y1="356.6" x2="322.3" y2="359.4" stroke="#111" stroke-width="1"/>
<text x="322.28" y="369.2" font-size="6.6" fill="#222" text-anchor="middle" font-weight="normal" font-style="normal" textLength="3.3" lengthAdjust="spacingAndGlyphs" stroke="#222" stroke-width="0.18" >6</text>
<line x1="332.1" y1="356.6" x2="332.1" y2="359.4" stroke="#111" stroke-width="1"/>
<text x="332.14" y="369.2" font-size="6.6" fill="#222" text-anchor="middle" font-weight="normal" font-style="normal" textLength="3.3" lengthAdjust="spacingAndGlyphs" stroke="#222" stroke-width="0.18" >8</text>
<line x1="342.0" y1="356.6" x2="342.0" y2="359.4" stroke="#111" stroke-width="1"/>
<text x="342.0" y="369.2" font-size="6.6" fill="#222" text-anchor="middle" font-weight="normal" font-style="normal" textLength="6.3" lengthAdjust="spacingAndGlyphs" stroke="#222" stroke-width="0.18" >10</text>
<line x1="351.9" y1="356.6" x2="351.9" y2="359.4" stroke="#111" stroke-width="1"/>
<text x="351.86" y="369.2" font-size="6.6" fill="#222" text-anchor="middle" font-weight="normal" font-style="normal" textLength="6.3" lengthAdjust="spacingAndGlyphs" stroke="#222" stroke-width="0.18" >12</text>
<line x1="361.7" y1="356.6" x2="361.7" y2="359.4" stroke="#111" stroke-width="1"/>
<text x="361.71999999999997" y="369.2" font-size="6.6" fill="#222" text-anchor="middle" font-weight="normal" font-style="normal" textLength="6.3" lengthAdjust="spacingAndGlyphs" stroke="#222" stroke-width="0.18" >14</text>
<line x1="371.6" y1="356.6" x2="371.6" y2="359.4" stroke="#111" stroke-width="1"/>
<text x="371.58" y="369.2" font-size="6.6" fill="#222" text-anchor="middle" font-weight="normal" font-style="normal" textLength="6.3" lengthAdjust="spacingAndGlyphs" stroke="#222" stroke-width="0.18" >16</text>
<line x1="381.4" y1="356.6" x2="381.4" y2="359.4" stroke="#111" stroke-width="1"/>
<text x="381.44" y="369.2" font-size="6.6" fill="#222" text-anchor="middle" font-weight="normal" font-style="normal" textLength="6.3" lengthAdjust="spacingAndGlyphs" stroke="#222" stroke-width="0.18" >18</text>
<line x1="391.3" y1="356.6" x2="391.3" y2="359.4" stroke="#111" stroke-width="1"/>
<text x="391.29999999999995" y="369.2" font-size="6.6" fill="#222" text-anchor="middle" font-weight="normal" font-style="normal" textLength="6.3" lengthAdjust="spacingAndGlyphs" stroke="#222" stroke-width="0.18" >22</text>
<line x1="401.2" y1="356.6" x2="401.2" y2="359.4" stroke="#111" stroke-width="1"/>
<text x="401.15999999999997" y="369.2" font-size="6.6" fill="#222" text-anchor="middle" font-weight="normal" font-style="normal" textLength="6.3" lengthAdjust="spacingAndGlyphs" stroke="#222" stroke-width="0.18" >27</text>
<line x1="411.0" y1="356.6" x2="411.0" y2="359.4" stroke="#111" stroke-width="1"/>
<text x="411.02" y="369.2" font-size="6.6" fill="#222" text-anchor="middle" font-weight="normal" font-style="normal" textLength="6.3" lengthAdjust="spacingAndGlyphs" stroke="#222" stroke-width="0.18" >32</text>
<text x="351.9" y="382" font-size="8.4" fill="#222" text-anchor="middle" font-weight="bold" font-style="normal" textLength="68.3" lengthAdjust="spacingAndGlyphs" stroke="#222" stroke-width="0.18" >Days post LCMV injection</text>
<path d="M346.9,332.4 L346.9,344.0 M345.7,332.4 L348.1,332.4 M345.7,344.0 L348.1,344.0" stroke="#9a96a0" stroke-width="0.65" fill="none"/>
<path d="M351.9,328.3 L351.9,344.0 M350.7,328.3 L353.1,328.3 M350.7,344.0 L353.1,344.0" stroke="#9a96a0" stroke-width="0.65" fill="none"/>
<path d="M356.8,316.6 L356.8,340.2 M355.6,316.6 L358.0,316.6 M355.6,340.2 L358.0,340.2" stroke="#9a96a0" stroke-width="0.65" fill="none"/>
<path d="M361.7,316.6 L361.7,340.2 M360.5,316.6 L362.9,316.6 M360.5,340.2 L362.9,340.2" stroke="#9a96a0" stroke-width="0.65" fill="none"/>
<path d="M366.6,333.4 L366.6,346.5 M365.4,333.4 L367.8,333.4 M365.4,346.5 L367.8,346.5" stroke="#9a96a0" stroke-width="0.65" fill="none"/>
<path d="M332.1,318.7 L332.1,323.8 M331.1,318.7 L333.1,318.7" stroke="#2a5a9a" stroke-width="0.6" fill="none"/>
<path d="M337.1,320.2 L337.1,324.3 M336.1,320.2 L338.1,320.2" stroke="#2a5a9a" stroke-width="0.6" fill="none"/>
<path d="M401.2,351.6 L401.2,356.6 M400.2,351.6 L402.2,351.6" stroke="#2a5a9a" stroke-width="0.6"/>
<polyline points="292.7,356.6 297.6,356.6 302.6,356.6 307.5,356.6 312.4,356.6 317.3,356.6 322.3,340.9 327.2,334.9 332.1,321.2 337.1,322.3 342.0,346.5 346.9,346.5 351.9,346.5 356.8,346.5 361.7,345.5 366.6,336.9 371.6,346.5 376.5,346.5 381.4,346.5 386.4,346.5 391.3,346.5 396.2,356.6 401.2,354.6 406.1,356.6 411.0,356.6" fill="none" stroke="#1f5a8a" stroke-width="1.1" stroke-linejoin="round"/>
<polyline points="292.7,356.6 297.6,356.6 302.6,356.6 307.5,356.6 312.4,356.6 317.3,356.6 322.3,343.5 327.2,335.9 332.1,323.3 337.1,323.8 342.0,346.5 346.9,346.5 351.9,346.5 356.8,346.5 361.7,344.5 366.6,337.4 371.6,346.5 376.5,346.5 381.4,346.5 386.4,346.5 391.3,346.5 396.2,356.6 401.2,356.6 406.1,356.6 411.0,356.6" fill="none" stroke="#2e8a50" stroke-width="1.3" stroke-linejoin="round"/>
<polyline points="292.7,356.6 297.6,356.6 302.6,356.6 307.5,356.6 312.4,356.6 317.3,356.6 322.3,346.0 327.2,336.4 332.1,326.3 337.1,326.3" fill="none" stroke="#ecb468" stroke-width="1.1" stroke-linejoin="round"/>
<polyline points="337.1,326.3 342.0,343.5 346.9,338.4 351.9,336.4 356.8,328.3 361.7,328.3 366.6,336.4 371.6,346.5 376.5,346.5 381.4,346.5 386.4,346.5 391.3,346.5 396.2,356.6 401.2,356.6 406.1,356.6 411.0,356.6" fill="none" stroke="#ecb468" stroke-width="1.1" stroke-linejoin="round"/>
<polyline points="292.7,356.6 297.6,356.6 302.6,356.6 307.5,356.6 312.4,356.6 317.3,356.6 322.3,316.2 327.2,316.2 332.1,296.0 337.1,296.0 342.0,285.9 346.9,285.9 351.9,285.9 356.8,285.9 361.7,285.9" fill="none" stroke="#c43c62" stroke-width="1.2" stroke-linejoin="round"/>
<circle cx="322.28" cy="346.00" r="0.95" fill="#222"/>
<circle cx="327.21" cy="336.40" r="0.95" fill="#222"/>
<circle cx="332.14" cy="326.30" r="0.95" fill="#222"/>
<circle cx="337.07" cy="326.30" r="0.95" fill="#222"/>
<circle cx="342.00" cy="343.47" r="0.95" fill="#222"/>
<circle cx="346.93" cy="338.42" r="0.95" fill="#222"/>
<circle cx="351.86" cy="336.40" r="0.95" fill="#222"/>
<circle cx="356.79" cy="328.32" r="0.95" fill="#222"/>
<circle cx="361.72" cy="328.32" r="0.95" fill="#222"/>
<circle cx="366.65" cy="336.40" r="0.95" fill="#222"/>
<circle cx="371.58" cy="346.50" r="0.95" fill="#222"/>
<circle cx="376.51" cy="346.50" r="0.95" fill="#222"/>
<circle cx="381.44" cy="346.50" r="0.95" fill="#222"/>
<circle cx="386.37" cy="346.50" r="0.95" fill="#222"/>
<circle cx="391.30" cy="346.50" r="0.95" fill="#222"/>
<circle cx="396.23" cy="356.60" r="0.95" fill="#222"/>
<circle cx="401.16" cy="356.60" r="0.95" fill="#222"/>
<circle cx="406.09" cy="356.60" r="0.95" fill="#222"/>
<circle cx="411.02" cy="356.60" r="0.95" fill="#222"/>
<circle cx="322.28" cy="343.47" r="0.95" fill="#1a2a1a"/>
<circle cx="327.21" cy="335.90" r="0.95" fill="#1a2a1a"/>
<circle cx="332.14" cy="323.27" r="0.95" fill="#1a2a1a"/>
<circle cx="337.07" cy="323.78" r="0.95" fill="#1a2a1a"/>
<circle cx="342.00" cy="346.50" r="0.95" fill="#1a2a1a"/>
<circle cx="346.93" cy="346.50" r="0.95" fill="#1a2a1a"/>
<circle cx="351.86" cy="346.50" r="0.95" fill="#1a2a1a"/>
<circle cx="356.79" cy="346.50" r="0.95" fill="#1a2a1a"/>
<circle cx="361.72" cy="344.48" r="0.95" fill="#1a2a1a"/>
<circle cx="366.65" cy="337.41" r="0.95" fill="#1a2a1a"/>
<circle cx="322.28" cy="340.95" r="0.95" fill="#1a2a3a"/>
<circle cx="327.21" cy="334.89" r="0.95" fill="#1a2a3a"/>
<circle cx="332.14" cy="321.25" r="0.95" fill="#1a2a3a"/>
<circle cx="337.07" cy="322.26" r="0.95" fill="#1a2a3a"/>
<circle cx="317.35" cy="356.60" r="0.95" fill="#2a0a14"/>
<circle cx="322.28" cy="316.20" r="0.95" fill="#2a0a14"/>
<circle cx="327.21" cy="316.20" r="0.95" fill="#2a0a14"/>
<circle cx="332.14" cy="296.00" r="0.95" fill="#2a0a14"/>
<circle cx="337.07" cy="296.00" r="0.95" fill="#2a0a14"/>
<circle cx="342.00" cy="285.90" r="0.95" fill="#2a0a14"/>
<circle cx="346.93" cy="285.90" r="0.95" fill="#2a0a14"/>
<circle cx="351.86" cy="285.90" r="0.95" fill="#2a0a14"/>
<circle cx="356.79" cy="285.90" r="0.95" fill="#2a0a14"/>
<circle cx="361.72" cy="285.90" r="0.95" fill="#2a0a14"/>
<circle cx="292.70" cy="356.60" r="0.85" fill="#222"/>
<circle cx="297.63" cy="356.60" r="0.85" fill="#222"/>
<circle cx="302.56" cy="356.60" r="0.85" fill="#222"/>
<circle cx="307.49" cy="356.60" r="0.85" fill="#222"/>
<circle cx="312.42" cy="356.60" r="0.85" fill="#222"/>
<circle cx="317.35" cy="356.60" r="0.85" fill="#222"/>
<circle cx="322.28" cy="356.60" r="0.85" fill="#222"/>
<circle cx="327.21" cy="356.60" r="0.85" fill="#222"/>
<circle cx="332.14" cy="356.60" r="0.85" fill="#222"/>
<circle cx="337.07" cy="356.60" r="0.85" fill="#222"/>
<circle cx="342.00" cy="356.60" r="0.85" fill="#222"/>
<circle cx="346.93" cy="356.60" r="0.85" fill="#222"/>
<circle cx="351.86" cy="356.60" r="0.85" fill="#222"/>
<circle cx="356.79" cy="356.60" r="0.85" fill="#222"/>
<circle cx="361.72" cy="356.60" r="0.85" fill="#222"/>
<circle cx="366.65" cy="356.60" r="0.85" fill="#222"/>
<circle cx="371.58" cy="356.60" r="0.85" fill="#222"/>
<circle cx="376.51" cy="356.60" r="0.85" fill="#222"/>
<circle cx="381.44" cy="356.60" r="0.85" fill="#222"/>
<circle cx="386.37" cy="356.60" r="0.85" fill="#222"/>
<circle cx="391.30" cy="356.60" r="0.85" fill="#222"/>
<circle cx="396.23" cy="356.60" r="0.85" fill="#222"/>
<circle cx="401.16" cy="356.60" r="0.85" fill="#222"/>
<circle cx="406.09" cy="356.60" r="0.85" fill="#222"/>
<circle cx="411.02" cy="356.60" r="0.85" fill="#222"/>
<line x1="424" y1="281.8" x2="433.2" y2="281.8" stroke="#1a3d6c" stroke-width="1.1"/>
<rect x="427.7" y="280.9" width="1.8" height="1.8" fill="#333"/>
<text x="436.6" y="284.0" font-size="6.8" fill="#2a2a2a" text-anchor="start" font-weight="normal" font-style="normal" stroke="#2a2a2a" stroke-width="0.18" >WT</text>
<line x1="424" y1="292.1" x2="433.2" y2="292.1" stroke="#a8284e" stroke-width="1.1"/>
<rect x="427.7" y="291.2" width="1.8" height="1.8" fill="#333"/>
<text x="436.6" y="294.40000000000003" font-size="6.8" fill="#2a2a2a" text-anchor="start" font-weight="normal" font-style="normal" textLength="23.6" lengthAdjust="spacingAndGlyphs" stroke="#2a2a2a" stroke-width="0.18" >CABIN1</text>
<text x="461.20000000000005" y="290.5" font-size="4.6" fill="#363636" text-anchor="start" font-weight="normal" font-style="normal" textLength="34.5" lengthAdjust="spacingAndGlyphs" stroke="#363636" stroke-width="0.18" >V2185M/V2185M</text>
<line x1="424" y1="302.5" x2="433.2" y2="302.5" stroke="#2e9a50" stroke-width="1.1"/>
<rect x="427.7" y="301.6" width="1.8" height="1.8" fill="#333"/>
<text x="436.6" y="304.8" font-size="6.8" fill="#2a2a2a" text-anchor="start" font-weight="normal" font-style="normal" textLength="23.6" lengthAdjust="spacingAndGlyphs" stroke="#2a2a2a" stroke-width="0.18" >CABIN1</text>
<text x="461.20000000000005" y="300.9" font-size="4.6" fill="#363636" text-anchor="start" font-weight="normal" font-style="normal" textLength="27" lengthAdjust="spacingAndGlyphs" stroke="#363636" stroke-width="0.18" >L816F/L816F</text>
<line x1="424" y1="312.4" x2="433.2" y2="312.4" stroke="#e2a848" stroke-width="1.1"/>
<rect x="427.7" y="311.5" width="1.8" height="1.8" fill="#333"/>
<text x="436.6" y="314.7" font-size="6.8" fill="#2a2a2a" text-anchor="start" font-weight="normal" font-style="normal" textLength="23.6" lengthAdjust="spacingAndGlyphs" stroke="#2a2a2a" stroke-width="0.18" >CABIN1</text>
<text x="461.20000000000005" y="310.79999999999995" font-size="4.6" fill="#363636" text-anchor="start" font-weight="normal" font-style="normal" textLength="31" lengthAdjust="spacingAndGlyphs" stroke="#363636" stroke-width="0.18" >V2185M/L816F</text>
<rect x="0" y="0" width="520" height="1.1" fill="#444"/>
<rect x="0" y="0" width="1.1" height="391" fill="#444"/>
<rect x="518.8" y="0" width="1.2" height="391" fill="#444"/>
<rect x="0" y="389.6" width="520" height="1.4" fill="#444"/>
</svg></body></html>
